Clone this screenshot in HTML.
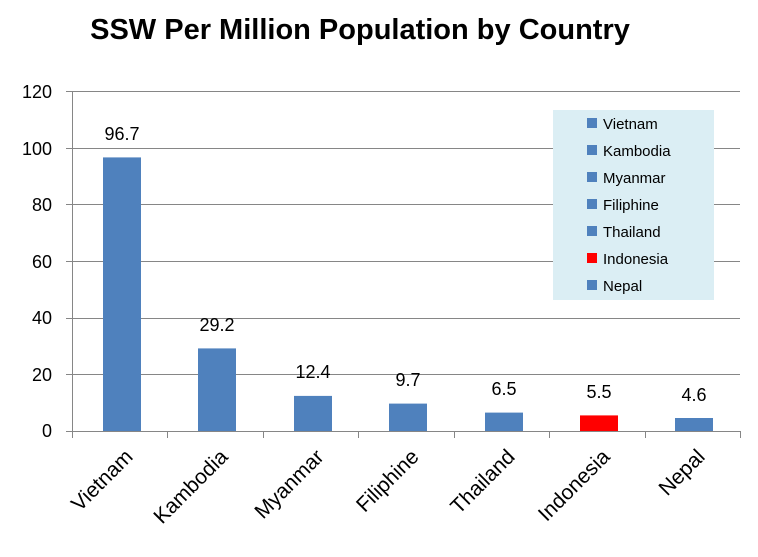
<!DOCTYPE html>
<html><head><style>body{margin:0;background:#fff}</style></head><body>
<svg width="758" height="552" xmlns="http://www.w3.org/2000/svg" font-family="Liberation Sans, sans-serif">
<rect width="758" height="552" fill="#fff"/>
<text x="360" y="39" font-size="29" font-weight="bold" text-anchor="middle">SSW Per Million Population by Country</text>
<g stroke="#868686" stroke-width="1">
<line x1="66" y1="91.5" x2="740" y2="91.5"/>
<line x1="66" y1="148.5" x2="740" y2="148.5"/>
<line x1="66" y1="204.5" x2="740" y2="204.5"/>
<line x1="66" y1="261.5" x2="740" y2="261.5"/>
<line x1="66" y1="318.5" x2="740" y2="318.5"/>
<line x1="66" y1="374.5" x2="740" y2="374.5"/>
<line x1="66" y1="431.5" x2="740" y2="431.5"/>
<line x1="72.5" y1="91" x2="72.5" y2="431"/>
<line x1="740.5" y1="431" x2="740.5" y2="438"/>
<line x1="167.5" y1="431" x2="167.5" y2="438"/>
<line x1="263.5" y1="431" x2="263.5" y2="438"/>
<line x1="358.5" y1="431" x2="358.5" y2="438"/>
<line x1="454.5" y1="431" x2="454.5" y2="438"/>
<line x1="549.5" y1="431" x2="549.5" y2="438"/>
<line x1="645.5" y1="431" x2="645.5" y2="438"/>
<line x1="72.5" y1="431" x2="72.5" y2="438"/>
</g>
<g font-size="18" text-anchor="end">
<text x="52" y="98">120</text><text x="52" y="155">100</text><text x="52" y="211">80</text>
<text x="52" y="268">60</text><text x="52" y="324">40</text><text x="52" y="381">20</text><text x="52" y="437">0</text>
</g>
<g fill="#4f81bd">
<rect x="103" y="157.4" width="38" height="273.6"/>
<rect x="198" y="348.4" width="38" height="82.6"/>
<rect x="294" y="395.9" width="38" height="35.1"/>
<rect x="389" y="403.6" width="38" height="27.4"/>
<rect x="485" y="412.6" width="38" height="18.4"/>
<rect x="580" y="415.4" width="38" height="15.6" fill="#ff0000"/>
<rect x="675" y="418" width="38" height="13"/>
</g>
<g font-size="18" text-anchor="middle">
<text x="122" y="140">96.7</text><text x="217" y="331">29.2</text><text x="313" y="378">12.4</text>
<text x="408" y="386">9.7</text><text x="504" y="395">6.5</text><text x="599" y="398">5.5</text><text x="694" y="401">4.6</text>
</g>
<g font-size="21" text-anchor="end">
<text transform="translate(134,458) rotate(-45)">Vietnam</text>
<text transform="translate(229,458) rotate(-45)">Kambodia</text>
<text transform="translate(325,458) rotate(-45)">Myanmar</text>
<text transform="translate(420,458) rotate(-45)">Filiphine</text>
<text transform="translate(516,458) rotate(-45)">Thailand</text>
<text transform="translate(611,458) rotate(-45)">Indonesia</text>
<text transform="translate(706,458) rotate(-45)">Nepal</text>
</g>
<rect x="553" y="110" width="161" height="190" fill="#dbeef4"/>
<g font-size="15" fill="#000">
<rect x="587" y="118" width="10" height="10" fill="#4f81bd"/><text x="603" y="129">Vietnam</text>
<rect x="587" y="145" width="10" height="10" fill="#4f81bd"/><text x="603" y="156">Kambodia</text>
<rect x="587" y="172" width="10" height="10" fill="#4f81bd"/><text x="603" y="183">Myanmar</text>
<rect x="587" y="199" width="10" height="10" fill="#4f81bd"/><text x="603" y="210">Filiphine</text>
<rect x="587" y="226" width="10" height="10" fill="#4f81bd"/><text x="603" y="237">Thailand</text>
<rect x="587" y="253" width="10" height="10" fill="#ff0000"/><text x="603" y="264">Indonesia</text>
<rect x="587" y="280" width="10" height="10" fill="#4f81bd"/><text x="603" y="291">Nepal</text>
</g>
</svg>
</body></html>
